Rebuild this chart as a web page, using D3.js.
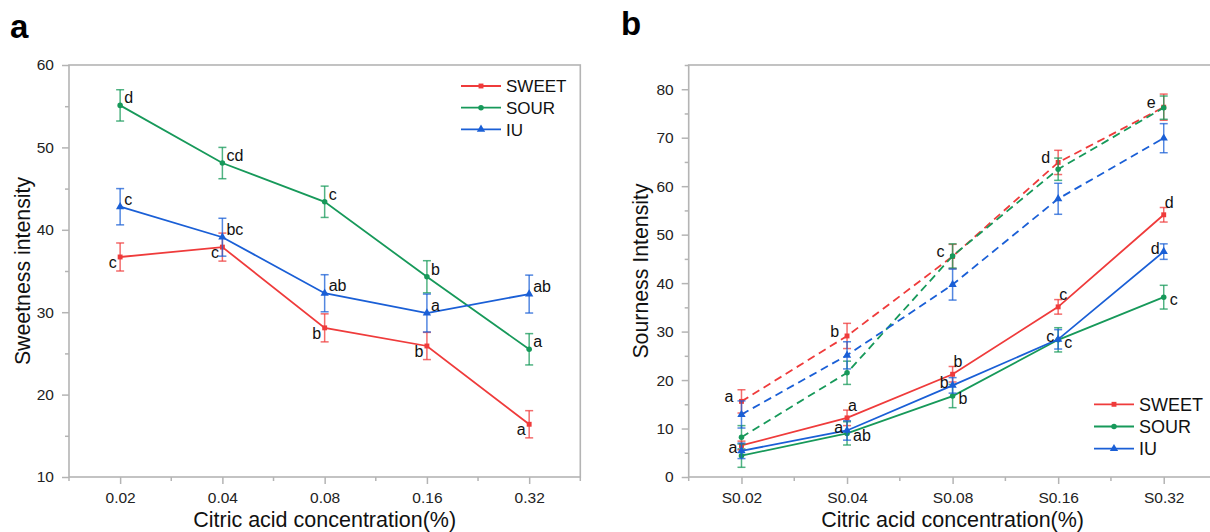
<!DOCTYPE html>
<html>
<head>
<meta charset="utf-8">
<script src="https://d3js.org/d3.v7.min.js"></script>
<style>
  body { margin: 0; background: #fff; }
  svg { font-family: "Liberation Sans", Arial, sans-serif; }
</style>
</head>
<body>
<svg id="chart" width="1210" height="532"></svg>
<script>
// ---- panel a : sweetness ----
var catsA = ["0.02", "0.04", "0.08", "0.16", "0.32"];
var sweetA    = [36.7, 37.9, 28.1, 25.9, 16.4];
var sweetAErr = [1.7, 1.7, 1.7, 1.65, 1.65];
var sweetALab = ["c", "c", "b", "b", "a"];
var sourA     = [55.1, 48.1, 43.4, 34.3, 25.5];
var sourAErr  = [1.9, 1.9, 1.9, 1.95, 1.9];
var sourALab  = ["d", "cd", "c", "b", "a"];
var iuA       = [42.8, 39.1, 32.3, 29.9, 32.2];
var iuAErr    = [2.2, 2.3, 2.25, 2.3, 2.3];
var iuALab    = ["c", "bc", "ab", "a", "ab"];

// ---- panel b : sourness (solid + dashed) ----
var catsB = ["S0.02", "S0.04", "S0.08", "S0.16", "S0.32"];
var sweetB    = [6.5, 12.2, 21.2, 35.1, 54.1];
var sweetBErr = [0.9, 1.6, 1.6, 1.5, 1.5];
var sweetBLab = ["", "a", "b", "c", "d"];
var sourB     = [4.4, 9.0, 16.7, 28.3, 37.1];
var sourBErr  = [2.4, 2.4, 2.4, 2.5, 2.45];
var sourBLab  = ["", "ab", "b", "c", "c"];
var iuB       = [5.4, 9.6, 18.9, 28.4, 46.5];
var iuBErr    = [1.6, 2.0, 1.6, 2.0, 1.6];
var iuBLab    = ["a", "a", "b", "c", "d"];
// dashed series
var sweetBd    = [15.6, 29.1, 45.5, 64.9, 76.3];
var sweetBdErr = [2.4, 2.6, 2.5, 2.5, 2.7];
var sweetBdLab = ["a", "b", "c", "d", "e"];
var sourBd     = [8.2, 21.5, 45.6, 63.5, 76.2];
var sourBdErr  = [2.4, 2.4, 2.5, 2.3, 2.4];
var iuBd       = [12.9, 25.1, 39.7, 57.4, 69.9];
var iuBdErr    = [2.8, 2.8, 3.2, 3.2, 3.0];

var legendNames = ["SWEET", "SOUR", "IU"];

var RED = "#ef3b3b", GREEN = "#17995a", BLUE = "#1a5fd6";
var GRAY = "#b4b4b4";

var svg = d3.select("#chart");

// label placement: [dx, dy, anchor]
var place = {
  ra: [4, -2, "start"],
  lb: [-3.5, 11, "end"],
  ra2: [1, -7, "start"],
  l: [-4, 2.5, "end"],
  rb: [6, 8, "start"],
  L: [-8, 1, "end"]
};

function drawPanel(o) {
  var g = svg.append("g");
  var x = d3.scalePoint().domain(o.cats).range([o.left, o.right]).padding(0.5);
  var y = d3.scaleLinear().domain(o.dom).range([477, 65]);
  var step = x.step();

  // minor y ticks
  var minorY = d3.range(o.dom[0] + 5, o.dom[1] + 0.1, 10);
  g.append("g").attr("transform", "translate(" + o.left + ",0)")
    .call(d3.axisLeft(y).tickValues(minorY).tickSize(4).tickFormat(""))
    .call(function (s) { s.select(".domain").remove(); s.selectAll("line").attr("stroke", GRAY).attr("stroke-width", 1.5); });

  // major y ticks
  g.append("g").attr("transform", "translate(" + o.left + ",0)")
    .call(d3.axisLeft(y).tickValues(d3.range(o.dom[0], o.dom[1] + 0.1, 10)).tickSize(7).tickPadding(8))
    .call(function (s) {
      s.select(".domain").remove();
      s.selectAll("line").attr("stroke", GRAY).attr("stroke-width", 1.5);
      s.selectAll("text").attr("fill", "#222").style("font-size", "15.5px");
    })
    .attr("font-family", null).attr("font-size", null);

  // x ticks
  g.append("g").attr("transform", "translate(0,477)")
    .call(d3.axisBottom(x).tickSize(7).tickPadding(8))
    .call(function (s) {
      s.select(".domain").remove();
      s.selectAll("line").attr("stroke", GRAY).attr("stroke-width", 1.5);
      s.selectAll("text").attr("fill", "#222").style("font-size", "15.5px");
    })
    .attr("font-family", null).attr("font-size", null);

  var bounds = o.cats.map(function (c) { return x(c) - step / 2; });
  bounds.push(x(o.cats[o.cats.length - 1]) + step / 2);
  g.selectAll(".xminor").data(bounds).enter().append("line")
    .attr("x1", function (d) { return d; }).attr("x2", function (d) { return d; })
    .attr("y1", 477).attr("y2", 481)
    .attr("stroke", GRAY).attr("stroke-width", 1.5);

  // frame
  g.append("rect").attr("x", o.left).attr("y", 65)
    .attr("width", o.right - o.left).attr("height", 412)
    .attr("fill", "none").attr("stroke", GRAY).attr("stroke-width", 1.6);

  // titles
  g.append("text").attr("x", (o.left + o.right) / 2).attr("y", 527)
    .attr("text-anchor", "middle").style("font-size", "21.5px").attr("fill", "#111")
    .text("Citric acid concentration(%)");
  g.append("text").attr("transform", "translate(" + o.yTitleX + ",271) rotate(-90)")
    .attr("text-anchor", "middle").style("font-size", "21.3px").attr("fill", "#111")
    .text(o.yTitle);
  g.append("text").attr("x", o.letterX).attr("y", o.letterY)
    .style("font-size", "33px").style("font-weight", "bold").attr("fill", "#000")
    .text(o.letter);

  // series
  o.series.forEach(function (s) {
    var pts = s.vals.map(function (v, i) { return { c: o.cats[i], v: v, e: s.err[i], lab: s.labs ? s.labs[i] : "" }; });
    var line = d3.line().x(function (d) { return x(d.c); }).y(function (d) { return y(d.v); });
    g.append("path").datum(pts).attr("d", line)
      .attr("fill", "none").attr("stroke", s.color).attr("stroke-width", 1.8)
      .attr("stroke-dasharray", s.dash ? "8,5" : null);

    var eb = g.append("g").attr("stroke", s.color).attr("stroke-width", 1.5).attr("stroke-opacity", 0.75);
    pts.forEach(function (d) {
      var cx = x(d.c), t = y(d.v + d.e), b = y(d.v - d.e);
      eb.append("line").attr("x1", cx).attr("x2", cx).attr("y1", t).attr("y2", b);
      eb.append("line").attr("x1", cx - 4).attr("x2", cx + 4).attr("y1", t).attr("y2", t);
      eb.append("line").attr("x1", cx - 4).attr("x2", cx + 4).attr("y1", b).attr("y2", b);
    });

    g.selectAll(null).data(pts).enter().append("path")
      .attr("d", d3.symbol().type(s.shape).size(s.shape === d3.symbolTriangle ? 30 : 24))
      .attr("transform", function (d) { return "translate(" + x(d.c) + "," + y(d.v) + ")"; })
      .attr("fill", s.color);

    pts.forEach(function (d) {
      if (!d.lab) return;
      var p = place[s.defPlace];
      g.append("text").attr("x", x(d.c) + p[0]).attr("y", y(d.v) + p[1])
        .attr("text-anchor", p[2]).style("font-size", "16px").attr("fill", "#111")
        .text(d.lab);
    });
  });

  // legend
  var lg = g.append("g");
  [[RED, d3.symbolSquare], [GREEN, d3.symbolCircle], [BLUE, d3.symbolTriangle]].forEach(function (m, i) {
    var yy = o.legY + i * o.legGap;
    lg.append("line").attr("x1", o.legX).attr("x2", o.legX + 40).attr("y1", yy).attr("y2", yy)
      .attr("stroke", m[0]).attr("stroke-width", 1.8);
    lg.append("path").attr("d", d3.symbol().type(m[1]).size(m[1] === d3.symbolTriangle ? 30 : 24)())
      .attr("transform", "translate(" + (o.legX + 20) + "," + yy + ")").attr("fill", m[0]);
    lg.append("text").attr("x", o.legX + 45).attr("y", yy).attr("dy", "0.36em")
      .style("font-size", o.legFont + "px").attr("fill", "#111").text(legendNames[i]);
  });
}

drawPanel({
  cats: catsA, left: 69, right: 580.3, dom: [10, 60],
  yTitle: "Sweetness intensity", yTitleX: 30, letter: "a", letterX: 10, letterY: 38,
  legX: 461, legY: 86, legGap: 21.7, legFont: 17,
  series: [
    { vals: sweetA, err: sweetAErr, labs: sweetALab, color: RED, shape: d3.symbolSquare, defPlace: "lb" },
    { vals: sourA, err: sourAErr, labs: sourALab, color: GREEN, shape: d3.symbolCircle, defPlace: "ra" },
    { vals: iuA, err: iuAErr, labs: iuALab, color: BLUE, shape: d3.symbolTriangle, defPlace: "ra" }
  ]
});

drawPanel({
  cats: catsB, left: 688.7, right: 1216.5, dom: [0, 85],
  yTitle: "Sourness Intensity", yTitleX: 648, letter: "b", letterX: 621, letterY: 35,
  legX: 1094, legY: 404.3, legGap: 22.2, legFont: 18,
  series: [
    { vals: sweetBd, err: sweetBdErr, labs: sweetBdLab, color: RED, shape: d3.symbolSquare, dash: true, defPlace: "L" },
    { vals: sourBd, err: sourBdErr, color: GREEN, shape: d3.symbolCircle, dash: true },
    { vals: iuBd, err: iuBdErr, color: BLUE, shape: d3.symbolTriangle, dash: true },
    { vals: sweetB, err: sweetBErr, labs: sweetBLab, color: RED, shape: d3.symbolSquare, defPlace: "ra2" },
    { vals: sourB, err: sourBErr, labs: sourBLab, color: GREEN, shape: d3.symbolCircle, defPlace: "rb" },
    { vals: iuB, err: iuBErr, labs: iuBLab, color: BLUE, shape: d3.symbolTriangle, defPlace: "l" }
  ]
});
</script>
</body>
</html>
